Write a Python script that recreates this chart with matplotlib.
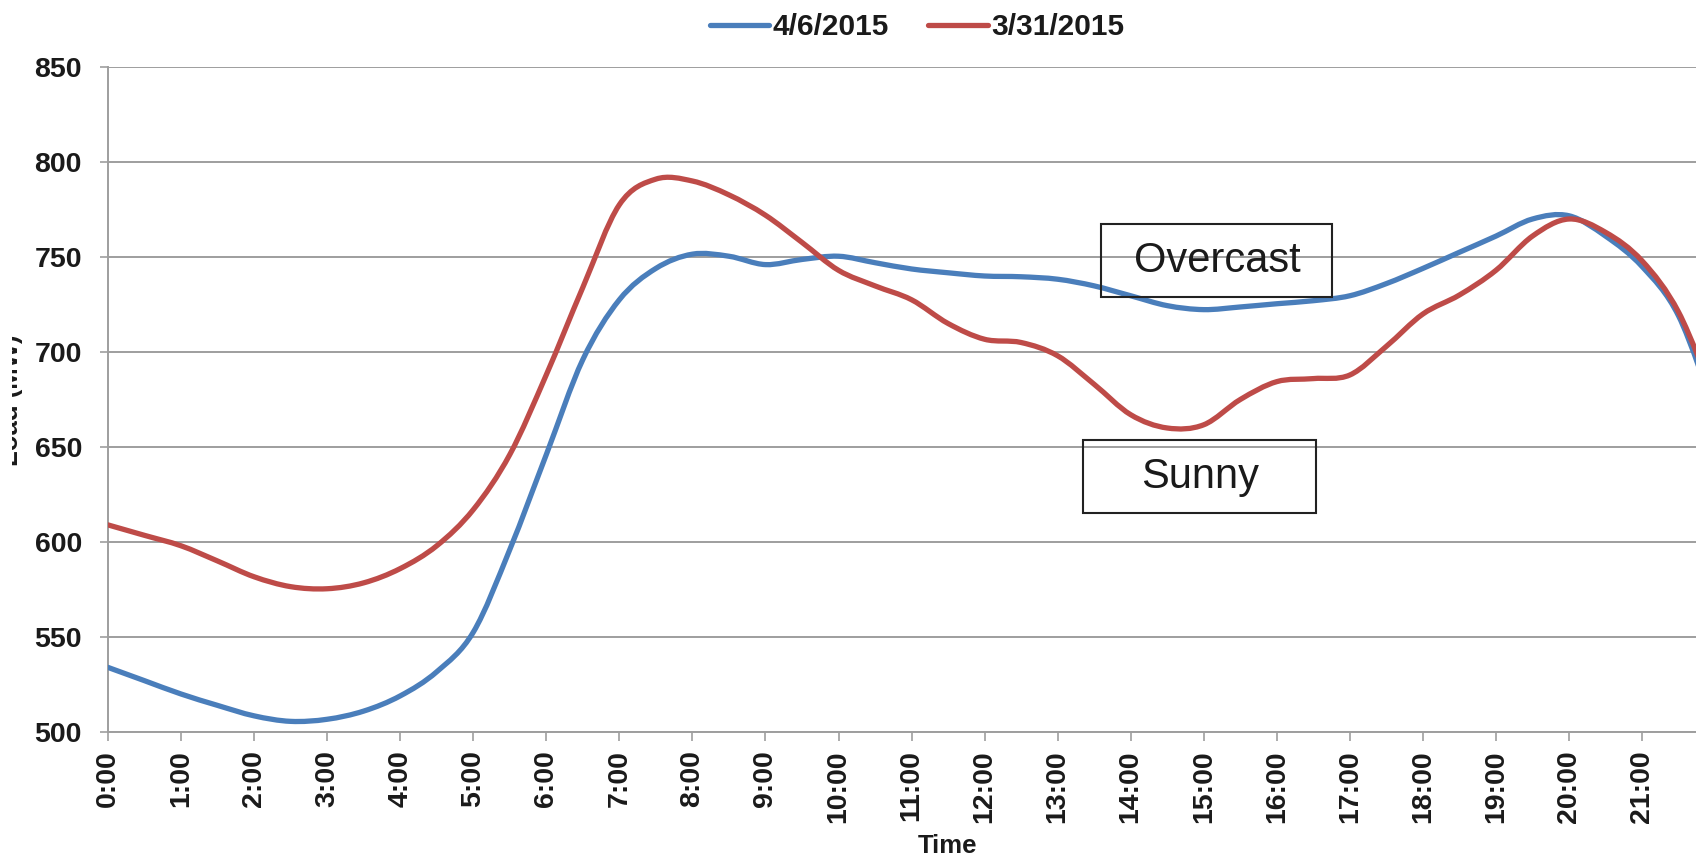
import matplotlib
matplotlib.use("Agg")
import matplotlib.pyplot as plt
from matplotlib.patches import Rectangle, PathPatch
from matplotlib.path import Path
from matplotlib.lines import Line2D
from matplotlib.transforms import Bbox, TransformedBbox

plt.rcParams['font.family'] = ['Liberation Sans', 'DejaVu Sans']

# ---- data ----
hours = [0, 0.5, 1, 1.5, 2, 2.5, 3, 3.5, 4, 4.5, 5, 5.5, 6, 6.5, 7, 7.5, 8, 8.5,
         9, 9.5, 10, 10.5, 11, 11.5, 12, 12.5, 13, 13.5, 14, 14.5, 15, 15.5,
         16, 16.5, 17, 17.5, 18, 18.5, 19, 19.5, 20, 20.5, 21, 21.5, 22]
load_apr6 = [534, 527, 520, 514, 508.5, 505.6, 506.7, 511, 519, 531.7, 552.5, 596,
             646, 696, 727.5, 744, 751.5, 750.4, 746, 748.7, 750.4, 747, 743.7, 741.7,
             740, 739.6, 738.3, 734.8, 729.6, 724.4, 722.3, 723.7, 725.4, 727, 729.6,
             736, 744, 752.5, 761, 770, 771.7, 761, 745, 719, 668]
load_mar31 = [609, 603.5, 598, 590, 581.7, 576.5, 575.4, 578.5, 586, 598, 617, 646,
              688, 734, 777.5, 791, 790, 782.7, 772, 757.7, 743, 734.8, 727.5, 715,
              706.7, 705, 698, 683, 667, 660, 661.7, 675, 684.4, 686, 687.9, 703,
              720, 730, 743, 761, 770, 763, 748, 721, 675]
series_labels = ['4/6/2015', '3/31/2015']
tick_hours = list(range(0, 22))
tick_labels = [f'{h}:00' for h in tick_hours]
y_ticks = [500, 550, 600, 650, 700, 750, 800, 850]

BLUE = '#4A7EBB'
RED = '#BE4B48'
GRID = '#9E9E9E'
LW = 3.8


def smooth_path(xs, ys):
    """Smoothed line (like a spreadsheet's 'smoothed line') as cubic Bezier
    segments passing through every data point."""
    pts = list(zip(xs, ys))
    n = len(pts)
    verts = [pts[0]]
    codes = [Path.MOVETO]
    for i in range(n - 1):
        p0 = pts[i - 1] if i > 0 else pts[i]
        p1 = pts[i]
        p2 = pts[i + 1]
        p3 = pts[i + 2] if i + 2 < n else pts[i + 1]
        c1 = (p1[0] + (p2[0] - p0[0]) / 6, p1[1] + (p2[1] - p0[1]) / 6)
        c2 = (p2[0] - (p3[0] - p1[0]) / 6, p2[1] - (p3[1] - p1[1]) / 6)
        verts += [c1, c2, p2]
        codes += [Path.CURVE4] * 3
    return Path(verts, codes)


W, H = 1696, 858
fig = plt.figure(figsize=(W / 100, H / 100), dpi=100)
ax = fig.add_axes([108 / W, 1 - 732 / H, 22 * 73.05 / W, (732 - 67) / H])

for xs, ys, col, z in [(hours, load_apr6, BLUE, 3), (hours, load_mar31, RED, 4)]:
    ax.add_patch(PathPatch(smooth_path(xs, ys), fill=False, edgecolor=col, lw=LW,
                           capstyle='round', joinstyle='round', zorder=z))

ax.set_xlim(0, 22)
ax.set_ylim(500, 850)
ax.set_yticks(y_ticks)
ax.set_yticklabels([str(v) for v in y_ticks], fontsize=20.5, fontweight='bold',
                   color='#1a1a1a')
ax.set_xticks(tick_hours)
ax.set_xticklabels(tick_labels, rotation=90, fontsize=20.5, fontweight='bold',
                   color='#1a1a1a')

ax.grid(axis='y', color=GRID, lw=1.4, zorder=1)
ax.set_axisbelow(True)
for s in ['top', 'right']:
    ax.spines[s].set_visible(False)
for s in ['left', 'bottom']:
    ax.spines[s].set_color(GRID)
    ax.spines[s].set_linewidth(1.4)
ax.tick_params(axis='y', direction='out', length=5.8, width=1.2, color=GRID, pad=13)
ax.tick_params(axis='x', direction='out', length=6.5, width=1.2, color=GRID, pad=6.5)

handles = [Line2D([], [], color=BLUE, lw=LW, solid_capstyle='round'),
           Line2D([], [], color=RED, lw=LW, solid_capstyle='round')]
leg = fig.legend(handles, series_labels, loc='center',
                 bbox_to_anchor=(917 / W, 1 - 27 / H), ncol=2,
                 frameon=False, handlelength=2.0, handletextpad=0.12,
                 columnspacing=1.3,
                 prop={'family': 'Liberation Sans', 'weight': 'bold', 'size': 21.5})
for t in leg.get_texts():
    t.set_color('#1a1a1a')

# annotation boxes
for (x0, y0, x1, y1), (tx, ty), txt in [
        ((1101, 224, 1332, 297), (1217, 261), 'Overcast'),
        ((1083, 440, 1316, 513), (1200, 477), 'Sunny')]:
    fig.patches.append(Rectangle((x0 / W, 1 - y1 / H), (x1 - x0) / W, (y1 - y0) / H,
                                 transform=fig.transFigure, fill=False,
                                 edgecolor='#222222', lw=1.5, zorder=5))
    fig.text(tx / W, 1 - ty / H, txt, ha='center', va='center', fontsize=30,
             color='#1a1a1a', zorder=6)

fig.text(947 / W, 1 - 846 / H, 'Time', ha='center', va='center', fontsize=18.5,
         fontweight='bold', color='#1a1a1a')
yl = fig.text(23 / W, 1 - 400 / H, 'Load (MW)', ha='right', va='center', rotation=90,
              fontsize=18.5, fontweight='bold', color='#1a1a1a')
yl.set_clip_box(TransformedBbox(Bbox([[12 / W, 0], [1, 1]]), fig.transFigure))
yl.set_clip_on(True)

fig.savefig('out.png', dpi=100)
